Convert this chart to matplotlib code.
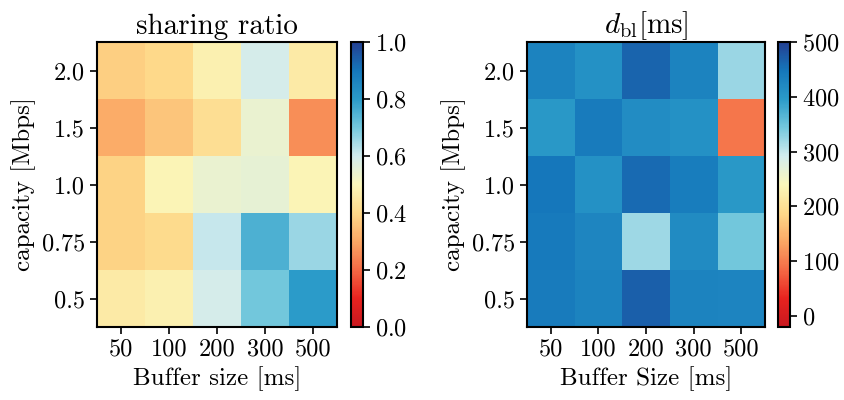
import numpy as np
import matplotlib
matplotlib.use('Agg')
import matplotlib.pyplot as plt
from matplotlib.colors import LinearSegmentedColormap

plt.rcParams['font.family'] = 'serif'
plt.rcParams['font.serif'] = ['cmr10']
plt.rcParams['mathtext.fontset'] = 'cm'
plt.rcParams['axes.formatter.use_mathtext'] = True

buffers = ['50', '100', '200', '300', '500']
capacities = ['0.5', '0.75', '1.0', '1.5', '2.0']  # bottom -> top

# sharing ratio, rows = capacities (bottom -> top), cols = buffers
sharing = np.array([
    [0.46, 0.48, 0.59, 0.70, 0.80],
    [0.39, 0.41, 0.61, 0.75, 0.66],
    [0.39, 0.49, 0.54, 0.55, 0.49],
    [0.31, 0.36, 0.42, 0.54, 0.26],
    [0.38, 0.40, 0.48, 0.59, 0.46],
])

# d_bl [ms]
dbl = np.array([
    [440, 430, 469, 430, 428],
    [443, 425, 320, 418, 344],
    [446, 410, 458, 438, 400],
    [400, 441, 415, 410, 94],
    [430, 410, 464, 430, 323],
])

cmap = LinearSegmentedColormap.from_list('rdylbu_sat', [
    '#c9181f', '#e8231f', '#f46a45', '#fba865', '#fed98a', '#fbf7bb',
    '#d2ecef', '#74c8dd', '#2b9bc9', '#1577bb', '#233f92'])

fig = plt.figure(figsize=(8.45, 4.0), dpi=100)

ax1 = fig.add_axes([0.1148, 0.1825, 0.284, 0.7125])
cax1 = fig.add_axes([0.4154, 0.1825, 0.0142, 0.7125])
ax2 = fig.add_axes([0.6237, 0.1825, 0.2817, 0.7125])
cax2 = fig.add_axes([0.9207, 0.1825, 0.0142, 0.7125])

im1 = ax1.imshow(sharing, cmap=cmap, vmin=0, vmax=1, origin='lower', aspect='auto')
im2 = ax2.imshow(dbl, cmap=cmap, vmin=-20, vmax=500, origin='lower', aspect='auto')

for ax, im, cax, xl, title in [
        (ax1, im1, cax1, 'Buffer size [ms]', 'sharing ratio'),
        (ax2, im2, cax2, 'Buffer Size [ms]', r'$d_{\rm bl}$[ms]')]:
    ax.set_xticks(range(len(buffers)))
    ax.set_xticklabels(buffers)
    ax.set_yticks(range(len(capacities)))
    ax.set_yticklabels(capacities)
    ax.set_xlabel(xl, fontsize=18)
    ax.set_ylabel('capacity [Mbps]', fontsize=18)
    ax.set_title(title, fontsize=21)
    ax.tick_params(labelsize=17.5, length=5, width=1.2)
    for s in ax.spines.values():
        s.set_linewidth(1.5)
    cb = fig.colorbar(im, cax=cax)
    cb.outline.set_linewidth(1.5)
    cb.ax.tick_params(labelsize=17.5, length=5, width=1.2)

cax1.set_yticks([0.0, 0.2, 0.4, 0.6, 0.8, 1.0])
cax2.set_yticks([0, 100, 200, 300, 400, 500])

fig.savefig('out.png', dpi=100)
